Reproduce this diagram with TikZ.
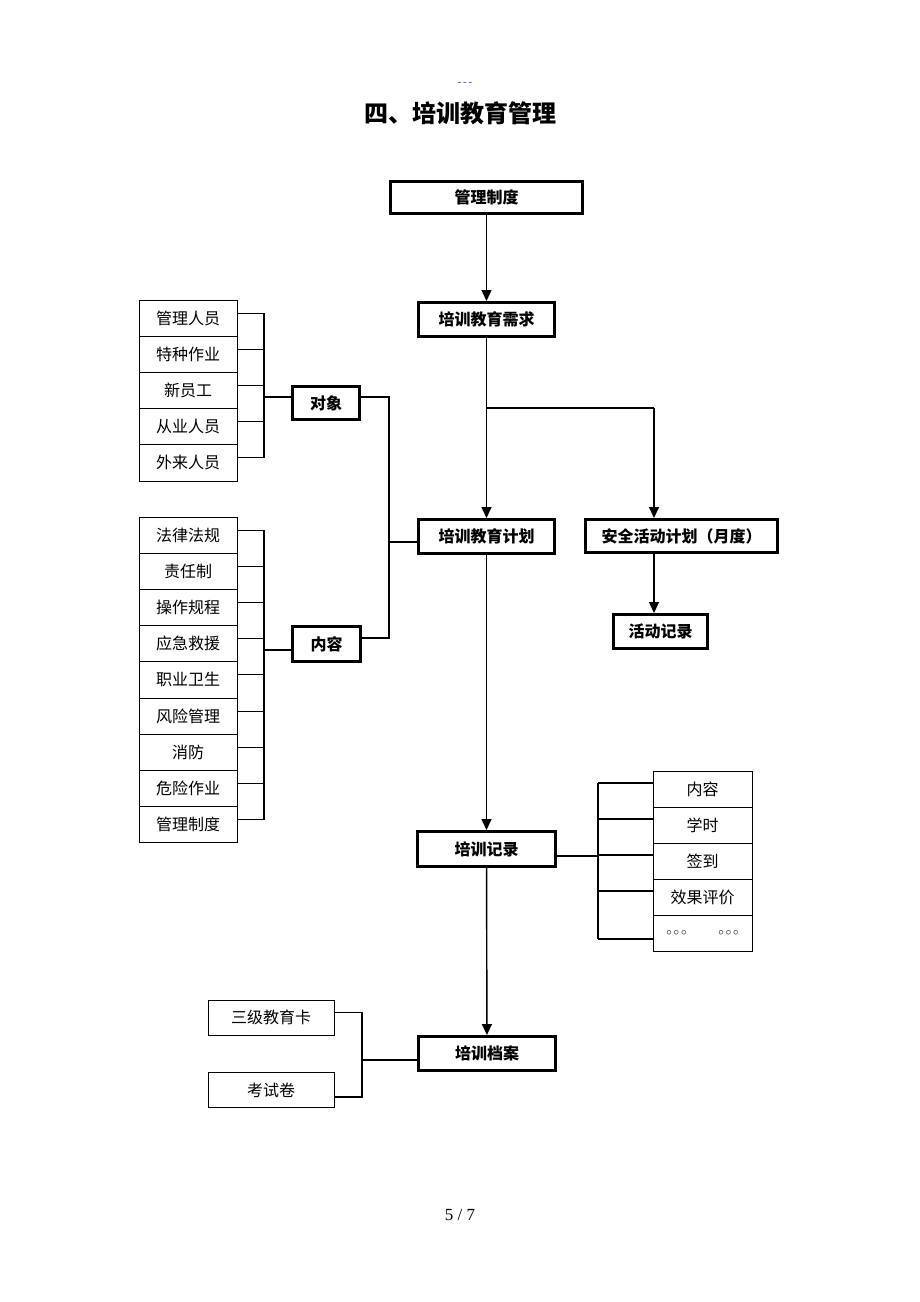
\documentclass[tikz,border=0pt]{standalone}
\usepackage{fontspec}
\setmainfont{Liberation Serif}
\newfontfamily\cjk{Noto Sans CJK SC}
\usetikzlibrary{arrows.meta}
\tikzset{every picture/.append style={x=1pt, y=-1pt}}
\tikzset{
    mainbox/.style={draw, line width=3pt, inner sep=0pt,
        font=\fontsize{16}{16}\selectfont\cjk\bfseries},
    itembox/.style={draw, line width=0.8pt, inner sep=0pt,
        font=\fontsize{16}{16}\selectfont\cjk},
    link/.style={line width=1.1pt},
    flow/.style={line width=1.4pt, -{Triangle[length=11pt, width=10pt]}}
}

\begin{document}
\begin{tikzpicture}
  \useasboundingbox (0,0) rectangle (920,1302);

  \node (hdr) [font=\fontsize{11}{11}\selectfont\bfseries, text=blue!35!gray] at (465,84) {-\,-\,-};
  \node (title) [font=\fontsize{24}{24}\selectfont\cjk\bfseries] at (460,113) {四、培训教育管理};

  % main column
  \node (gl) [mainbox, minimum width=192, minimum height=32] at (486.5,197.5) {管理制度};
  \node (xq) [mainbox, minimum width=136, minimum height=34] at (486.5,319.5) {培训教育需求};
  \node (jh) [mainbox, minimum width=136, minimum height=34] at (486.5,536.5) {培训教育计划};
  \node (aq) [mainbox, minimum width=192, minimum height=33] at (681.5,536) {安全活动计划（月度）};
  \node (hd) [mainbox, minimum width=94, minimum height=34] at (660.5,631.5) {活动记录};
  \node (dx) [mainbox, minimum width=67, minimum height=33] at (326,403) {对象};
  \node (nr) [mainbox, minimum width=68, minimum height=35] at (326.5,644) {内容};
  \node (jl) [mainbox, minimum width=138, minimum height=35] at (486.5,849) {培训记录};
  \node (da) [mainbox, minimum width=137, minimum height=34] at (487,1053.5) {培训档案};

  % lists
  \foreach \t [count=\i] in {管理人员,特种作业,新员工,从业人员,外来人员}
    \node (a\i) [itembox, minimum width=98, minimum height=36.2] at (188,{300+36.2*(\i-0.5)}) {\t};
  \foreach \t [count=\i] in {法律法规,责任制,操作规程,应急救援,职业卫生,风险管理,消防,危险作业,管理制度}
    \node (b\i) [itembox, minimum width=98, minimum height=36.2] at (188,{517+36.2*(\i-0.5)}) {\t};
  \foreach \t [count=\i] in {内容,学时,签到,效果评价}
    \node (c\i) [itembox, minimum width=99, minimum height=36] at (702.5,{771+36*(\i-0.5)}) {\t};
  \node (c5) [itembox, minimum width=99, minimum height=36] at (702.5,933)
    {\raisebox{-3pt}{$\scriptstyle\circ\,\circ\,\circ\qquad\circ\,\circ\,\circ$}};
  \node (sj) [itembox, minimum width=126, minimum height=35] at (271,1017.5) {三级教育卡};
  \node (ks) [itembox, minimum width=126, minimum height=35] at (271,1090) {考试卷};

  % arrows
  \coordinate (br) at (486.5,408);
  \coordinate (brr) at (654,408);
  \draw[flow] (gl) -- (xq);
  \draw[flow] (xq) -- (jh);
  \draw[link] (br) -- (brr);
  \draw[flow] (brr) -- (brr |- aq.north);
  \draw[flow] (brr |- aq.south) -- (brr |- hd.north);
  \draw[flow] (jh) -- (jl);
  \draw[flow] (jl) -- (da);

  % brackets
  \coordinate (ja) at (264,397);
  \foreach \i in {1,...,5}
    \draw[link] ([yshift=5pt]a\i.east) -- ([yshift=5pt]a\i.east -| ja);
  \draw[link] ([yshift=5pt]a1.east -| ja) -- ([yshift=5pt]a5.east -| ja);
  \draw[link] (ja) -- (ja -| dx.west);

  \coordinate (jb) at (264,650);
  \foreach \i in {1,...,9}
    \draw[link] ([yshift=5pt]b\i.east) -- ([yshift=5pt]b\i.east -| jb);
  \draw[link] ([yshift=5pt]b1.east -| jb) -- ([yshift=5pt]b9.east -| jb);
  \draw[link] (jb) -- (jb -| nr.west);

  \coordinate (jd) at (389,397);
  \coordinate (jn) at (389,638);
  \coordinate (jp) at (389,542);
  \draw[link] (jd -| dx.east) -- (jd) -- (jn) -- (jn -| nr.east);
  \draw[link] (jp) -- (jp -| jh.west);

  \coordinate (jc) at (598,856);
  \foreach \i in {1,...,4}
    \draw[link] ([yshift=6pt]c\i.west) -- ([yshift=6pt]c\i.west -| jc);
  \draw[link] ([yshift=-6pt]c5.west) -- ([yshift=-6pt]c5.west -| jc);
  \draw[link] ([yshift=6pt]c1.west -| jc) -- ([yshift=-6pt]c5.west -| jc);
  \draw[link] (jc -| jl.east) -- (jc);

  \coordinate (js) at (362,1060);
  \draw[link] ([yshift=5pt]sj.east) -| (js);
  \draw[link] ([yshift=-7pt]ks.east) -| (js);
  \draw[link] (js) -- (js -| da.west);

  \node (pg) [font=\fontsize{17}{17}\selectfont] at (460,1215) {5 / 7};
\end{tikzpicture}
\end{document}
